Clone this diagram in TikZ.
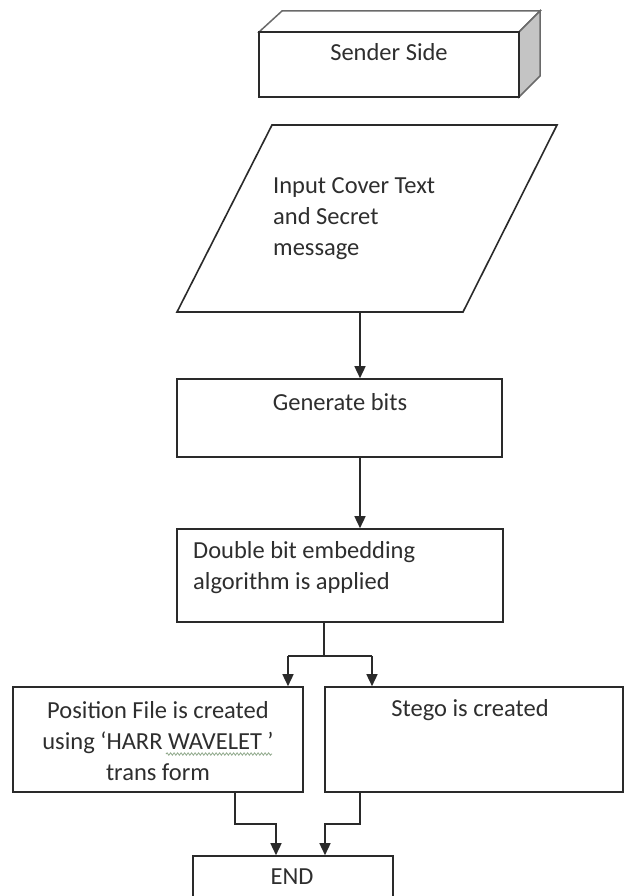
\documentclass[tikz,border=0pt]{standalone}
\usepackage{fontspec}
\setmainfont{Carlito}
\usetikzlibrary{arrows.meta,decorations.pathmorphing}
\definecolor{lineclr}{HTML}{2A2A2A}
\definecolor{txtclr}{HTML}{2E2E2E}
\definecolor{sideclr}{HTML}{C4C4C4}
\definecolor{topclr}{HTML}{6A6A6A}
\definecolor{squig}{HTML}{8FA88A}
\begin{document}
\begin{tikzpicture}[x=1pt,y=-1pt,
  box/.style={draw=lineclr, line width=1.6pt, rectangle, inner sep=0pt, fill=white},
  conn/.style={draw=lineclr, line width=1.5pt},
  arr/.style={conn, -{Triangle[length=12pt,width=11pt]}},
  lbl/.style={font=\fontsize{24.5}{31}\selectfont, text=txtclr, inner sep=0pt}]
\clip (0,0) rectangle (630,896);
\fill[white] (0,0) rectangle (630,896);

% Sender Side 3D box
\filldraw[fill=white, draw=topclr, line width=1.5pt] (259,32) -- (282,11) -- (540,11) -- (519,32) -- cycle;
\filldraw[fill=sideclr, draw=topclr, line width=1.5pt] (519,32) -- (540,11) -- (540,76) -- (519,97) -- cycle;
\node[box, minimum width=260pt, minimum height=65pt] (send) at (389,64.5) {};
\node[lbl] (sendt) at (389,52) {Sender Side};

% Input parallelogram
\draw[draw=lineclr, line width=1.6pt] (272,125) -- (557,125) -- (463,312) -- (177,312) -- cycle;
\coordinate (inbot) at (360,312);
\node[lbl, align=left, anchor=west] (inpt) at (273,219) {Input Cover Text\\and Secret\\message};

% Generate bits
\node[box, minimum width=325pt, minimum height=78pt] (gen) at (339.5,418) {};
\node[lbl] (gent) at (340,402) {Generate bits};

% Double bit
\node[box, minimum width=326pt, minimum height=93pt] (dbl) at (340,575.5) {};
\node[lbl, align=left, anchor=west] (dblt) at (193,568) {Double bit embedding\\algorithm is applied};

% Position file
\node[box, minimum width=290pt, minimum height=105pt] (pos) at (158,739.5) {};
\node[lbl, align=center] (post) at (158,741) {Position File is created\\using ‘HARR WAVELET ’\\trans form};
\draw[squig, line width=0.8pt, decorate, decoration={snake, amplitude=1.2pt, segment length=3.5pt}] (166,754) -- (272,754);

% Stego
\node[box, minimum width=298pt, minimum height=105pt] (stego) at (474,739.5) {};
\node[lbl] (stegot) at (470,710) {Stego is created};

% END
\node[box, minimum width=200pt, minimum height=54pt] (endb) at (293,883) {};
\node[lbl] (endt) at (292,877) {END};

% connectors
\draw[arr] (inbot) -- (inbot |- gen.north);
\draw[arr] ([xshift=20.5pt]gen.south) -- ([xshift=20pt]dbl.north);
\draw[conn] ([xshift=-16pt]dbl.south) -- ++(0,33) coordinate (split);
\draw[conn] ([xshift=130pt]pos.north |- split) -- ([xshift=-102pt]stego.north |- split);
\draw[arr] ([xshift=130pt]pos.north |- split) -- ([xshift=130pt]pos.north);
\draw[arr] ([xshift=-102pt]stego.north |- split) -- ([xshift=-102pt]stego.north);
\draw[arr] ([xshift=77pt]pos.south) -- ++(0,31) -| ([xshift=-17pt]endb.north);
\draw[arr] ([xshift=-114pt]stego.south) -- ++(0,31) -| ([xshift=32pt]endb.north);
\end{tikzpicture}
\end{document}
